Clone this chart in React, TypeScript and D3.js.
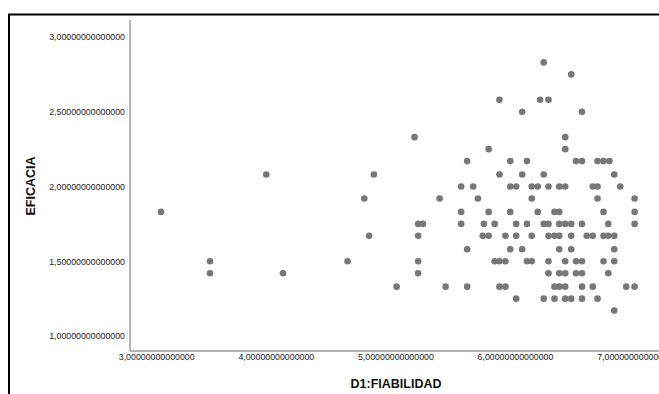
import React, { useEffect, useRef } from "react";
import * as d3 from "d3";

// EFICACIA levels and the FIABILIDAD values observed at each level
const eficaciaLevels = [
  2.83, 2.75, 2.58, 2.5, 2.33, 2.25, 2.17, 2.08, 2.0, 1.92, 1.83, 1.75, 1.67,
  1.58, 1.5, 1.42, 1.33, 1.25, 1.17,
];

const fiabilidadByLevel = [
  [6.24],
  [6.47],
  [5.87, 6.21, 6.28],
  [6.06, 6.56],
  [5.16, 6.42],
  [5.78, 6.42],
  [5.6, 5.96, 6.1, 6.51, 6.56, 6.69, 6.74, 6.79],
  [3.92, 4.82, 5.87, 6.06, 6.24, 6.83],
  [5.55, 5.65, 5.96, 6.01, 6.14, 6.19, 6.28, 6.37, 6.42, 6.65, 6.69, 6.88],
  [4.74, 5.37, 5.69, 6.14, 6.69, 7.0],
  [3.04, 5.55, 5.78, 5.96, 6.19, 6.33, 6.37, 6.74, 7.0],
  [5.19, 5.23, 5.55, 5.74, 5.83, 6.01, 6.1, 6.24, 6.28, 6.37, 6.42, 6.47, 6.56, 6.78, 7.0],
  [4.78, 5.19, 5.73, 5.78, 5.92, 6.01, 6.14, 6.28, 6.33, 6.37, 6.47, 6.6, 6.65, 6.74, 6.78, 6.83],
  [5.6, 5.96, 6.06, 6.37, 6.47, 6.83],
  [3.45, 4.6, 5.19, 5.83, 5.87, 5.92, 6.1, 6.14, 6.28, 6.42, 6.51, 6.56, 6.74, 6.83],
  [3.45, 4.06, 5.19, 6.28, 6.37, 6.42, 6.51, 6.56, 6.78],
  [5.01, 5.42, 5.6, 5.87, 5.92, 6.33, 6.37, 6.42, 6.56, 6.65, 6.93, 7.0],
  [6.01, 6.24, 6.33, 6.42, 6.47, 6.56, 6.69],
  [6.83],
];

const xTicks = [3, 4, 5, 6, 7];
const xTickLabels = [
  "3,00000000000000",
  "4,00000000000000",
  "5,00000000000000",
  "6,00000000000000",
  "7,00000000000000",
];
const yTicks = [1, 1.5, 2, 2.5, 3];
const yTickLabels = [
  "1,00000000000000",
  "1,50000000000000",
  "2,00000000000000",
  "2,50000000000000",
  "3,00000000000000",
];

const xTitle = "D1:FIABILIDAD";
const yTitle = "EFICACIA";

const W = 659;
const H = 394;
const font = "'Liberation Sans', Arial, sans-serif";

export default function App() {
  const svgRef = useRef<SVGSVGElement>(null);

  useEffect(() => {
    const svg = d3.select(svgRef.current);
    svg.selectAll("*").remove();

    const points: { x: number; y: number }[] = [];
    eficaciaLevels.forEach((lvl, i) => {
      fiabilidadByLevel[i].forEach((v) => points.push({ x: v, y: lvl }));
    });

    const x = d3.scaleLinear().domain([3, 7]).range([156.2, 634.6]);
    const y = d3.scaleLinear().domain([1, 3]).range([336, 37]);

    const axisLeftX = 130;
    const axisBottomY = 351;

    svg.append("rect").attr("width", W).attr("height", H).attr("fill", "#fff");

    // outer frame
    svg
      .append("path")
      .attr("d", `M9,${H} V14.5 H${W}`)
      .attr("fill", "none")
      .attr("stroke", "#000")
      .attr("stroke-width", 2);

    // axis lines
    svg
      .append("line")
      .attr("x1", axisLeftX)
      .attr("x2", axisLeftX)
      .attr("y1", 20)
      .attr("y2", axisBottomY)
      .attr("stroke", "#6b6b6b")
      .attr("stroke-width", 1);
    svg
      .append("line")
      .attr("x1", axisLeftX)
      .attr("x2", W)
      .attr("y1", axisBottomY)
      .attr("y2", axisBottomY)
      .attr("stroke", "#6b6b6b")
      .attr("stroke-width", 1);

    const xAxis = d3
      .axisBottom(x)
      .tickValues(xTicks)
      .tickSize(0)
      .tickPadding(0)
      .tickFormat((d, i) => xTickLabels[i]);
    const gx = svg
      .append("g")
      .attr("transform", `translate(0, ${axisBottomY + 3})`)
      .call(xAxis);
    gx.select(".domain").remove();
    gx.selectAll("text")
      .attr("font-family", font)
      .attr("font-size", 8.8)
      .attr("fill", "#222");

    const yAxis = d3
      .axisLeft(y)
      .tickValues(yTicks)
      .tickSize(0)
      .tickPadding(0)
      .tickFormat((d, i) => yTickLabels[i]);
    const gy = svg.append("g").attr("transform", `translate(125, 0)`).call(yAxis);
    gy.select(".domain").remove();
    gy.selectAll("text")
      .attr("font-family", font)
      .attr("font-size", 8.8)
      .attr("fill", "#222");

    // points
    svg
      .append("g")
      .selectAll("circle")
      .data(points)
      .enter()
      .append("circle")
      .attr("cx", (d) => x(d.x))
      .attr("cy", (d) => y(d.y))
      .attr("r", 3.3)
      .attr("fill", "#777");

    // titles
    svg
      .append("text")
      .attr("x", 396)
      .attr("y", 388)
      .attr("text-anchor", "middle")
      .attr("font-family", font)
      .attr("font-size", 12.5)
      .attr("font-weight", "bold")
      .attr("fill", "#111")
      .text(xTitle);

    svg
      .append("text")
      .attr("transform", `translate(35, 186) rotate(-90)`)
      .attr("text-anchor", "middle")
      .attr("font-family", font)
      .attr("font-size", 12.5)
      .attr("font-weight", "bold")
      .attr("fill", "#111")
      .text(yTitle);
  }, []);

  return (
    <div style={{ position: "absolute", left: 0, top: 0 }}>
      <svg ref={svgRef} width={W} height={H} style={{ display: "block" }} />
    </div>
  );
}
